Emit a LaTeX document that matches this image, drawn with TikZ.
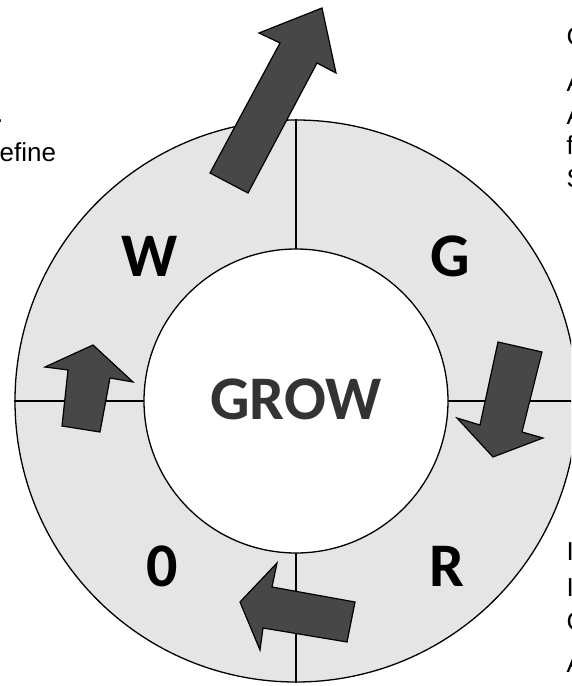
\documentclass[tikz,border=0pt]{standalone}
\usepackage{fontspec}
\setmainfont{Liberation Sans}
\newfontfamily\wheelfont{Carlito}
\begin{document}
\begin{tikzpicture}[x=1pt,y=1pt,line width=1.3pt,
    ring/.style={circle,draw=black,fill=black!10,inner sep=0pt,minimum size=562pt},
    hub/.style={circle,draw=black,fill=white,inner sep=0pt,minimum size=304pt},
    blockarrow/.style={draw=black,line width=1.2pt,fill=black!72,line join=miter},
    stage/.style={font=\wheelfont\bfseries\fontsize{62}{62}\selectfont},
    title/.style={font=\wheelfont\bfseries\fontsize{62}{62}\selectfont,text=black!80},
    cut/.style={font=\fontsize{26}{26}\selectfont,inner sep=0pt,anchor=base west}]
    \useasboundingbox (-296,-285) rectangle (275,401);
    \clip (-296,-285) rectangle (275,401);

    % wheel
    \node[ring] (ring) at (0,0) {};
    \draw (ring.north) -- (ring.south);
    \draw (ring.west) -- (ring.east);
    \node[hub] (hub) at (0,0) {};
    \node[title] (grow) at (0,2) {GROW};

    % stages
    \node[stage] (W) at (-146,145) {W};
    \node[stage] (G) at (154,145) {G};
    \node[stage] (O) at (-134,-165) {0};
    \node[stage] (R) at (151,-165) {R};

    % block arrows
    \draw[blockarrow] (-86,228) -- (-16,358) -- (-37,368) -- (26,393)
        -- (40,328) -- (21,338) -- (-48,208) -- cycle;
    \draw[blockarrow] (202,59) -- (246,49) -- (226,-31) -- (247,-37)
        -- (197,-56) -- (161,-17) -- (184,-24) -- cycle;
    \draw[blockarrow] (-56,-201) -- (-19,-162) -- (-24,-186) -- (59,-201)
        -- (51,-241) -- (-33,-227) -- (-36,-249) -- cycle;
    \draw[blockarrow] (-234,-25) -- (-228,31) -- (-251,34) -- (-203,56)
        -- (-163,19) -- (-186,23) -- (-196,-31) -- cycle;

    % text cut off at the edges
    \node[cut,anchor=base east] (dot) at (-292,278) {.};
    \node[cut] (define) at (-297,239) {efine};
    \node[cut] (t1) at (270,355) {C};
    \node[cut] (t2) at (270,309) {A};
    \node[cut] (t3) at (270,276) {A};
    \node[cut] (t4) at (270,246) {f};
    \node[cut] (t5) at (270,213) {S};
    \node[cut] (b1) at (270,-159) {I};
    \node[cut] (b2) at (270,-195) {I};
    \node[cut] (b3) at (270,-229) {C};
    \node[cut] (b4) at (270,-271) {A};
\end{tikzpicture}
\end{document}
